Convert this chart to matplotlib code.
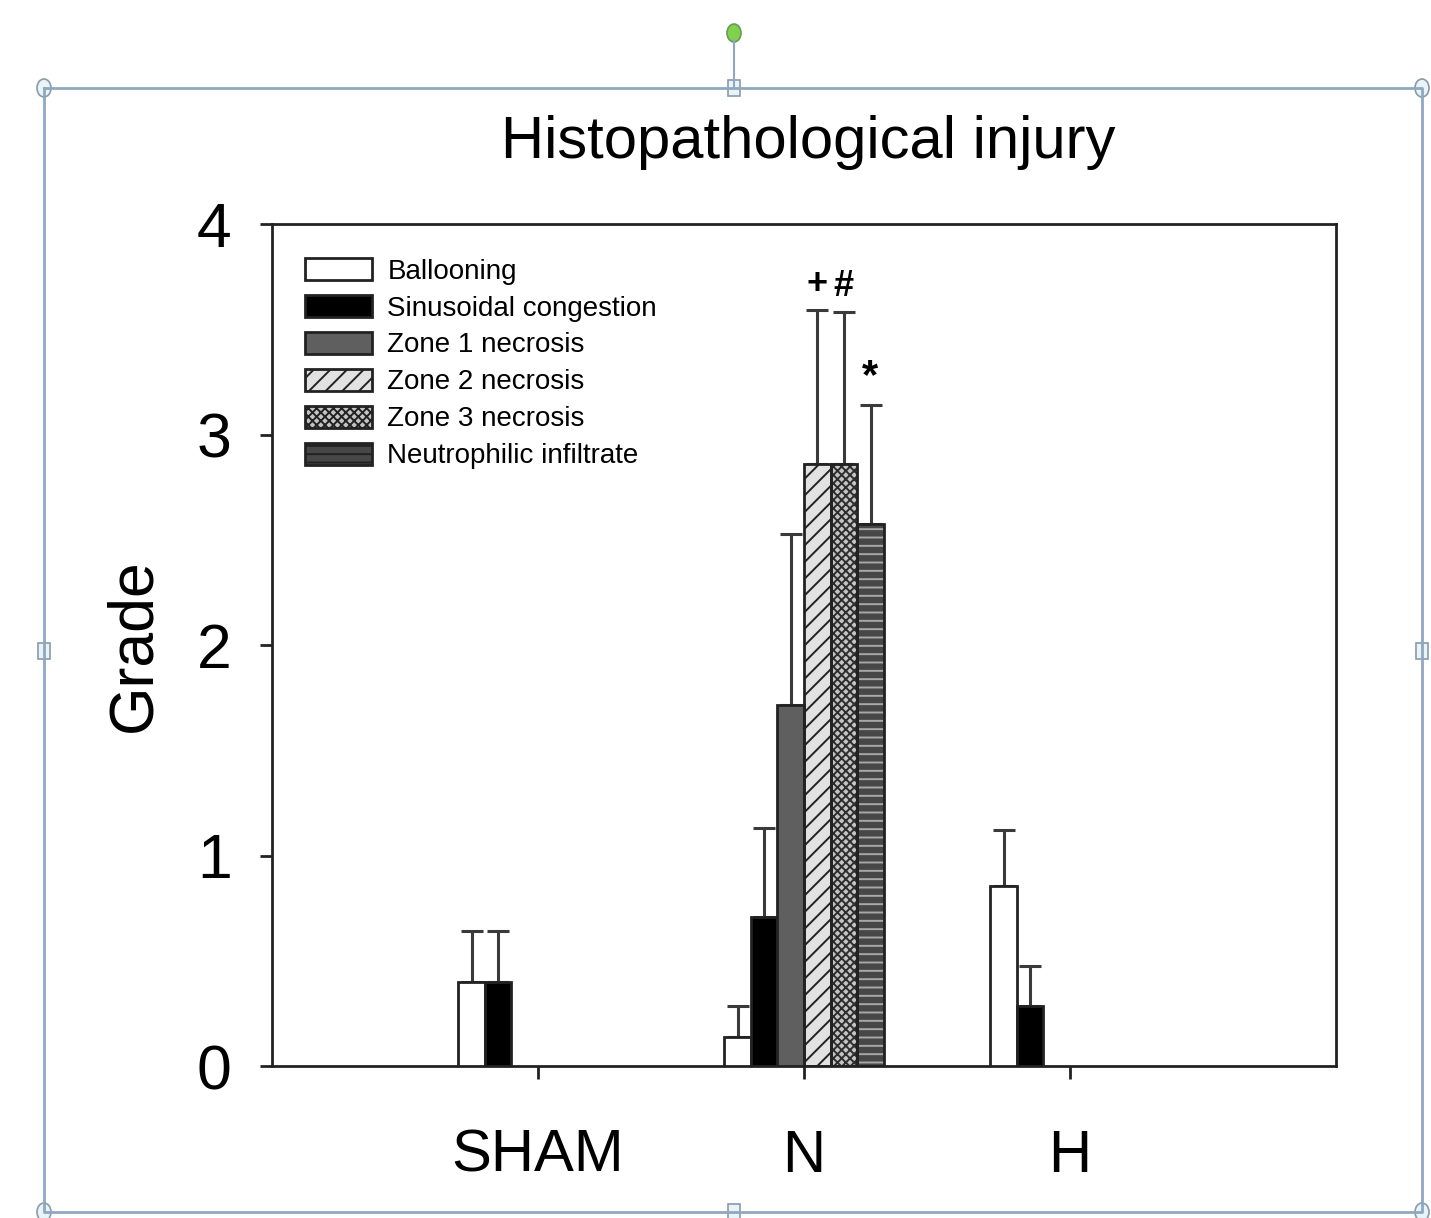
import numpy as np
import matplotlib
matplotlib.use("Agg")
import matplotlib.pyplot as plt
from matplotlib.patches import Rectangle, Ellipse, Patch
from matplotlib.lines import Line2D

# ---------------- data ----------------
groups = ["SHAM", "N", "H"]
series = ["Ballooning", "Sinusoidal congestion", "Zone 1 necrosis",
          "Zone 2 necrosis", "Zone 3 necrosis", "Neutrophilic infiltrate"]
ballooning = [0.40, 0.14, 0.855]
ballooning_err = [0.24, 0.145, 0.265]
sinusoidal = [0.40, 0.71, 0.285]
sinusoidal_err = [0.24, 0.42, 0.19]
zone1 = [np.nan, 1.715, np.nan]
zone1_err = [np.nan, 0.81, np.nan]
zone2 = [np.nan, 2.86, np.nan]
zone2_err = [np.nan, 0.73, np.nan]
zone3 = [np.nan, 2.86, np.nan]
zone3_err = [np.nan, 0.72, np.nan]
neutro = [np.nan, 2.575, np.nan]
neutro_err = [np.nan, 0.565, np.nan]
y_ticks = [0, 1, 2, 3, 4]
annotations = [("+", 1, 3, 3.59), ("#", 1, 4, 3.58), ("*", 1, 5, 3.14)]  # (text, group, series idx, y of error top)

values = [ballooning, sinusoidal, zone1, zone2, zone3, neutro]
errors = [ballooning_err, sinusoidal_err, zone1_err, zone2_err, zone3_err, neutro_err]

# styles: facecolor, hatch, hatch colour
styles = [("white", None, None),
          ("black", None, None),
          ("#5f5f5f", None, None),
          ("#e2e2e2", "//", "#222222"),
          ("#c4c4c4", "xxxx", "#2e2e2e"),
          ("#474747", "--", "#a8a8a8")]

FAM = ["Liberation Sans", "DejaVu Sans"]
plt.rcParams["font.family"] = FAM
plt.rcParams["hatch.linewidth"] = 1.4

W, H = 1431, 1218
fig = plt.figure(figsize=(W / 100, H / 100), dpi=100)
fig.patch.set_facecolor("white")

ax = fig.add_axes([272 / W, 1 - 1066 / H, (1336 - 272) / W, (1066 - 224) / H])
bw = 0.1
offsets = (np.arange(len(series)) - (len(series) - 1) / 2) * bw
xg = np.arange(len(groups))

for i, (vals, errs) in enumerate(zip(values, errors)):
    fc, hatch, hc = styles[i]
    vals = np.array(vals, dtype=float)
    errs = np.array(errs, dtype=float)
    m = ~np.isnan(vals)
    x = xg[m] + offsets[i]
    if hatch:
        ax.bar(x, vals[m], bw, color=fc, edgecolor=hc, hatch=hatch, linewidth=0, zorder=2)
        ax.bar(x, vals[m], bw, facecolor="none", edgecolor="#222222", linewidth=2, zorder=3)
    else:
        ax.bar(x, vals[m], bw, color=fc, edgecolor="#222222", linewidth=2, zorder=3)
    ax.errorbar(x, vals[m], yerr=[np.zeros(m.sum()), errs[m]], fmt="none",
                ecolor="#3a3a3a", elinewidth=2.2, capsize=8, capthick=2.2, zorder=1)

for txt, g, s, ytop in annotations:
    ax.text(xg[g] + offsets[s], ytop + 0.04, txt, ha="center", va="bottom",
            fontsize=30 if txt == "*" else 26, fontweight="bold")

ax.set_xlim(-1, 3)
ax.set_ylim(0, 4)
ax.set_yticks(y_ticks)
ax.set_yticklabels([str(t) for t in y_ticks])
ax.set_xticks(xg)
ax.set_xticklabels(groups)
ax.tick_params(axis="y", labelsize=45, length=9, width=2, direction="out", pad=20, colors="#222222", labelcolor="black")
ax.tick_params(axis="x", labelsize=43, length=9, width=2, direction="out", pad=36, colors="#222222", labelcolor="black")
for sp in ax.spines.values():
    sp.set_linewidth(2)
    sp.set_color("#222222")
ax.set_ylabel("Grade", fontsize=45, labelpad=24)

handles = [Patch(facecolor=fc, edgecolor=(hc if hatch else "#222222"), hatch=hatch, linewidth=2)
           for fc, hatch, hc in styles]
leg = ax.legend(handles, series, loc="upper left", bbox_to_anchor=(0.021, 0.973), frameon=False,
                fontsize=20, handlelength=2.4, handleheight=0.85, handletextpad=0.55,
                labelspacing=0.37, borderaxespad=0)
for p in leg.get_patches():
    p.set_edgecolor("#222222")

fig.text(808 / W, 1 - 143 / H, "Histopathological injury", ha="center", va="center", fontsize=43)

# selection frame decoration (figure pixel coordinates)
fc_frame = "#8fa8c0"
def px(x, y):
    return x / W, 1 - y / H
x0, y0, x1, y1 = 44, 88, 1422, 1212
xs = [x0, x1, x1, x0, x0]
ys = [y0, y0, y1, y1, y0]
fig.add_artist(Line2D([x / W for x in xs], [1 - y / H for y in ys], color=fc_frame, lw=2))
fig.add_artist(Line2D([734 / W, 734 / W], [1 - 40 / H, 1 - 88 / H], color=fc_frame, lw=1.5))
for (cx, cy) in [(x0, y0), (x1, y0), (x0, y1), (x1, y1)]:
    fig.add_artist(Ellipse(px(cx, cy), 14 / W, 18 / H, facecolor="#e8f4f8", edgecolor="#8a9aa8", lw=1.2))
for (cx, cy) in [(734, y0), (x0, 651), (x1, 651), (734, y1)]:
    fig.add_artist(Rectangle(((cx - 6) / W, 1 - (cy + 8) / H), 12 / W, 16 / H,
                             facecolor="#e8f4f8", edgecolor="#8a9aa8", lw=1.2))
fig.add_artist(Ellipse(px(734, 33), 14 / W, 18 / H, facecolor="#7fd24a", edgecolor="#6a9a5a", lw=1.2))

fig.savefig("out.png", dpi=100, facecolor="white")
